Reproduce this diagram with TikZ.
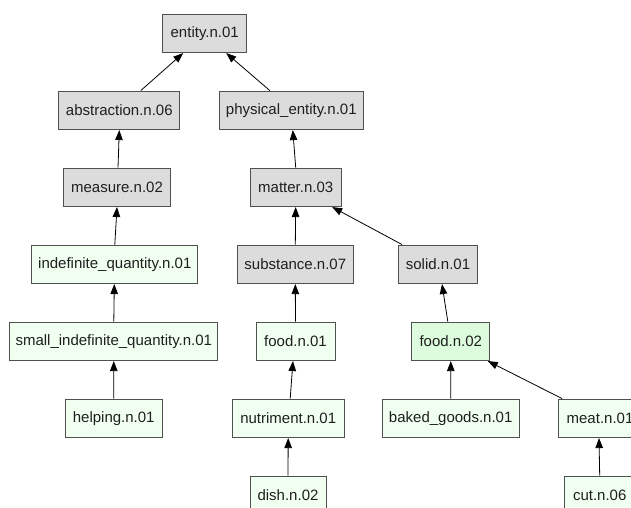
\documentclass[tikz,border=0pt]{standalone}
\usepackage{fontspec}
\setmainfont{Liberation Sans}
\usetikzlibrary{arrows.meta,calc}
\definecolor{boxgray}{HTML}{DCDCDC}
\definecolor{boxgreen}{HTML}{F0FFF0}
\definecolor{boxgreenb}{HTML}{DDFCDD}
\definecolor{boxline}{HTML}{505050}
\tikzset{
  syn/.style={draw=boxline, line width=1pt, rectangle, minimum height=38.5pt,
    inner xsep=0pt, inner ysep=0pt, font=\fontsize{15pt}{18pt}\selectfont, text=black!88},
  wd/.style={minimum width=#1pt},
  grayb/.style={syn, fill=boxgray},
  greenb/.style={syn, fill=boxgreen},
  greenbb/.style={syn, fill=boxgreenb},
  hyp/.style={line width=0.8pt, -{Triangle[length=10pt,width=7.5pt]}}
}
\begin{document}
\begin{tikzpicture}[x=1pt,y=1pt]
\useasboundingbox (0,0) rectangle (631,-508);
\clip (0,0) rectangle (631,-508);
\fill[white] (0,0) rectangle (631,-508);
% synset boxes, one row per depth
\node[grayb,wd=84]    (entity)   at (204.7,-33.3)  {entity.n.01};
\node[grayb,wd=121]   (abstr)    at (119.3,-110.3) {abstraction.n.06};
\node[grayb,wd=144]   (phys)     at (291.3,-110.3) {physical\_entity.n.01};
\node[grayb,wd=107]   (measure)  at (117,-187.3)   {measure.n.02};
\node[grayb,wd=91]    (matter)   at (295.7,-187.3) {matter.n.03};
\node[greenb,wd=166]  (indef)    at (114.8,-264.3) {indefinite\_quantity.n.01};
\node[grayb,wd=116]   (subst)    at (295.3,-264.3) {substance.n.07};
\node[grayb,wd=79]    (solid)    at (438,-264.3)   {solid.n.01};
\node[greenb,wd=208]  (smallq)   at (113.8,-341.3) {small\_indefinite\_quantity.n.01};
\node[greenb,wd=79]   (foodA)    at (295.5,-341.3) {food.n.01};
\node[greenbb,wd=78]  (foodB)    at (450.8,-341.3) {food.n.02};
\node[greenb,wd=97]   (helping)  at (113.7,-418.3) {helping.n.01};
\node[greenb,wd=112]  (nutr)     at (288.2,-418.3) {nutriment.n.01};
\node[greenb,wd=137]  (baked)    at (450.7,-418.3) {baked\_goods.n.01};
\node[greenb,wd=84]   (meat)     at (600,-418.3)   {meat.n.01};
\node[greenb,wd=76]   (dish)     at (288,-495.3)   {dish.n.02};
\node[greenb,wd=70]   (cut)      at (599.7,-495.3) {cut.n.06};
% hypernym links, child to parent
\draw[hyp] ([xshift=21.5pt]abstr.north) -- ([xshift=-21.5pt]entity.south);
\draw[hyp] ([xshift=-21.5pt]phys.north) -- ([xshift=21.5pt]entity.south);
\draw[hyp] ([xshift=1pt]measure.north) -- (abstr.south);
\draw[hyp] (matter.north) -- ([xshift=1.5pt]phys.south);
\draw[hyp] (indef.north) -- (measure.south);
\draw[hyp] (subst.north) -- (matter.south);
\draw[hyp] ([xshift=-36pt]solid.north) -- ([xshift=36.5pt]matter.south);
\draw[hyp] (smallq.north) -- ([xshift=-0.5pt]indef.south);
\draw[hyp] (foodA.north) -- (subst.south);
\draw[hyp] ([xshift=-3pt]foodB.north) -- ([xshift=4pt]solid.south);
\draw[hyp] (helping.north) -- (smallq.south);
\draw[hyp] ([xshift=2pt]nutr.north) -- ([xshift=-2.5pt]foodA.south);
\draw[hyp] (baked.north) -- (foodB.south);
\draw[hyp] ([xshift=-38pt]meat.north) -- ([xshift=37pt]foodB.south);
\draw[hyp] (dish.north) -- (nutr.south);
\draw[hyp] (cut.north) -- ([xshift=-1pt]meat.south);
\end{tikzpicture}
\end{document}
